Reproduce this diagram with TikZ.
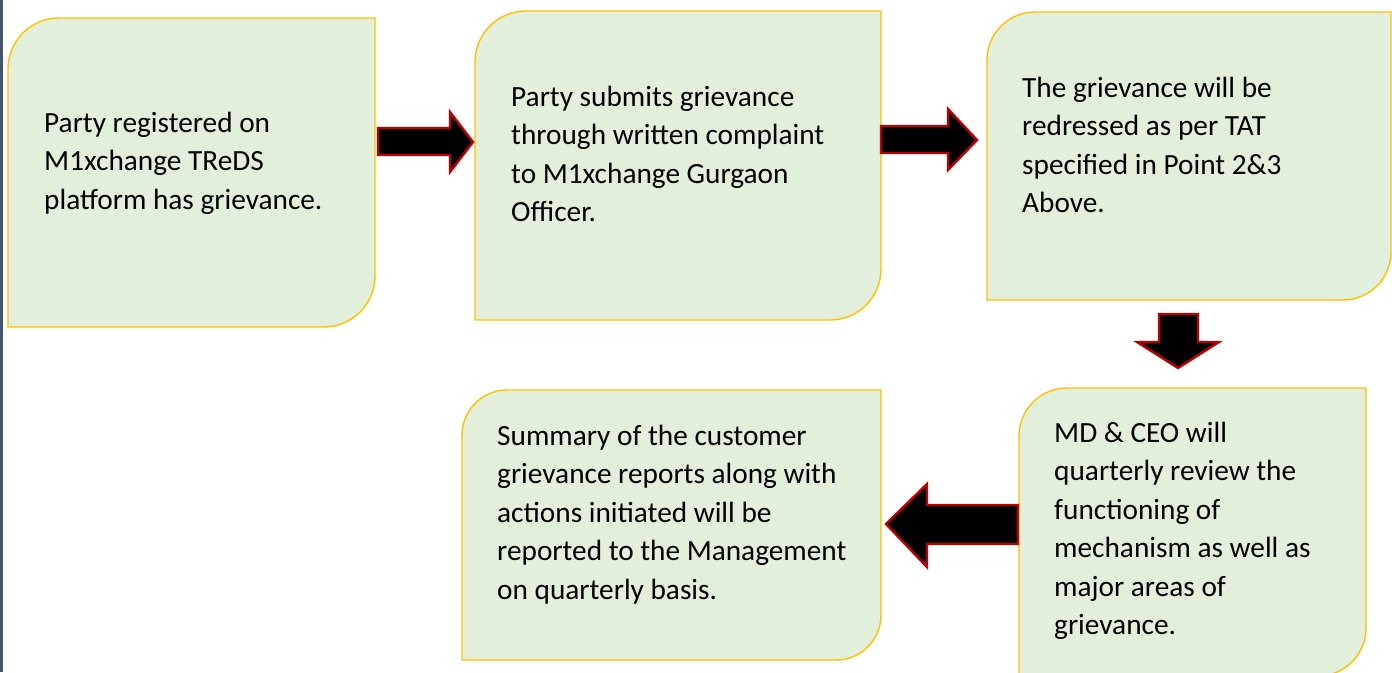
\documentclass[tikz,border=0pt]{standalone}
\usepackage{fontspec}
\setmainfont{Carlito}
\definecolor{boxfill}{HTML}{E2EFDA}
\definecolor{boxline}{HTML}{FFC000}
\definecolor{arrline}{HTML}{C00000}
\definecolor{edgebar}{HTML}{44546A}
\tikzset{
  gboxpath/.style={fill=boxfill, draw=boxline, line width=1.4pt},
  blockarrow/.style={fill=black, draw=arrline, line width=2.4pt, line join=miter},
  boxtext/.style={anchor=base west, inner sep=0pt, font=\fontsize{29.3}{38.5}\selectfont},
}
% #1 name, #2 x1, #3 y1, #4 x2, #5 y2, #6 radius
\newcommand{\gbox}[6]{%
  \path[gboxpath] (#2,{#3+#6}) .. controls (#2,{#3+0.448*#6}) and ({#2+0.448*#6},#3) .. ({#2+#6},#3)
    -- (#4,#3) -- (#4,{#5-#6})
    .. controls (#4,{#5-0.448*#6}) and ({#4-0.448*#6},#5) .. ({#4-#6},#5)
    -- (#2,#5) -- cycle;
  \node[inner sep=0pt, minimum width={(#4-#2)*1pt}, minimum height={(#5-#3)*1pt}] (#1) at ({(#2+#4)/2},{(#3+#5)/2}) {};
}
\begin{document}
\begin{tikzpicture}[x=1pt,y=-1pt]
\useasboundingbox (0,0) rectangle (1392,672);
\clip (0,0) rectangle (1392,672);
\fill[edgebar] (0,0) rectangle (2.5,672);

\gbox{b1}{8}{18}{375}{327}{51}
\gbox{b2}{475}{11}{881}{320}{51}
\gbox{b3}{987}{12}{1391}{300}{48}
\gbox{b4}{1019}{388}{1366}{676}{48}
\gbox{b5}{462}{390}{881}{660}{45}

\node[boxtext] (t1) at (44,132) {\parbox[t]{320pt}{\raggedright Party registered on\\M1xchange TReDS\\platform has grievance.}};
\node[boxtext] (t2) at (511,106) {\parbox[t]{360pt}{\raggedright Party submits grievance\\through written complaint\\to M1xchange Gurgaon\\Officer.}};
\node[boxtext] (t3) at (1022,97) {\parbox[t]{360pt}{\raggedright The grievance will be\\redressed as per TAT\\specified in Point 2\&3\\Above.}};
\node[boxtext] (t4) at (1054,442) {\parbox[t]{300pt}{\raggedright MD \& CEO will\\quarterly review the\\functioning of\\mechanism as well as\\major areas of\\grievance.}};
\node[boxtext] (t5) at (497,445) {\parbox[t]{380pt}{\raggedright Summary of the customer\\grievance reports along with\\actions initiated will be\\reported to the Management\\on quarterly basis.}};

% block arrows between boxes
\draw[blockarrow] (378,128) -- (450,128) -- (450,112) -- (473,142) -- (450,172) -- (450,155) -- (378,155) -- cycle;
\draw[blockarrow] (881,126) -- (948,126) -- (948,109) -- (977,140) -- (948,170) -- (948,153) -- (881,153) -- cycle;
\draw[blockarrow] (1159,314) -- (1198,314) -- (1198,342) -- (1219,342) -- (1178,368) -- (1137,342) -- (1159,342) -- cycle;
\draw[blockarrow] (1018,505) -- (927,505) -- (927,484) -- (886,524) -- (927,567) -- (927,544) -- (1018,544) -- cycle;
\end{tikzpicture}
\end{document}
